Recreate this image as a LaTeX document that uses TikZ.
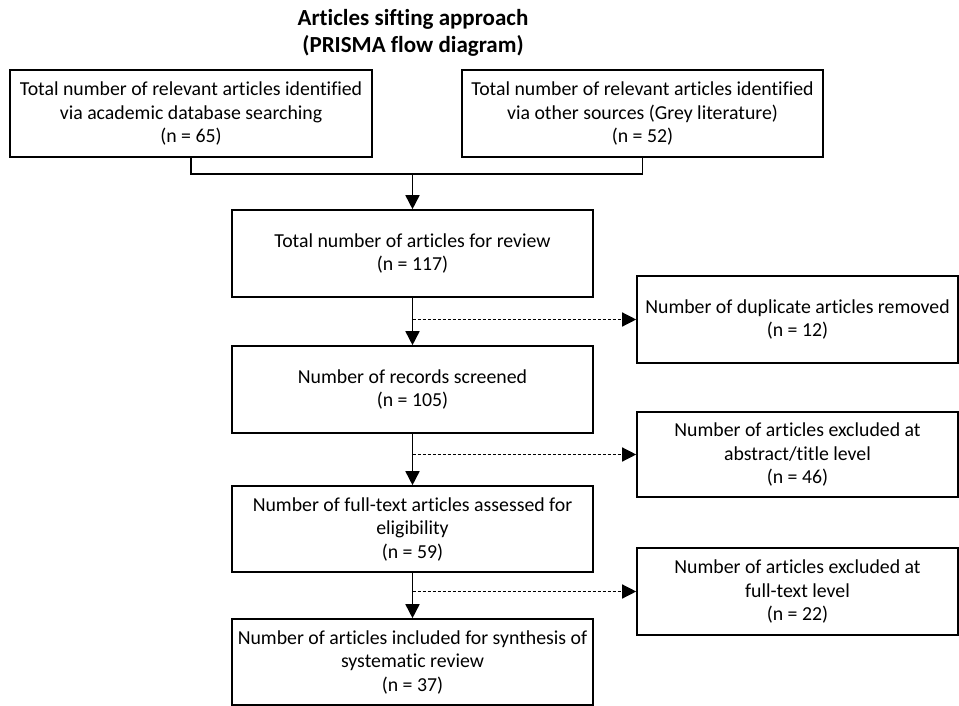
\documentclass[tikz,border=0pt]{standalone}
\usepackage{fontspec}
\setmainfont{Carlito}[Ligatures=NoCommon]
\usetikzlibrary{arrows.meta}
\begin{document}
\begin{tikzpicture}[x=1pt,y=-1pt,
  box/.style={draw,line width=1.6pt,minimum width=#1,align=center,inner sep=0pt,
    font=\fontsize{19.8}{23.5}\selectfont},
  box/.default=361pt,
  conn/.style={line width=1.6pt},
  arr/.style={line width=1.6pt,-{Triangle[length=14pt,width=14pt]}},
  darr/.style={line width=1.3pt,dash pattern=on 3pt off 2pt,-{Triangle[length=14pt,width=14pt]}}]
\useasboundingbox (0,0) rectangle (959,706);
\node[font=\bfseries\fontsize{23}{27}\selectfont,align=center] (title) at (413,33) {Articles sifting approach\\(PRISMA flow diagram)};
\node[box=362pt,minimum height=87pt] (b1) at (191,113.5) {Total number of relevant articles identified\\via academic database searching\\(n = 65)};
\node[box=361pt,minimum height=87pt] (b2) at (642.5,113.5) {Total number of relevant articles identified\\via other sources (Grey literature)\\(n = 52)};
\node[box,minimum height=87pt] (b3) at (412.5,253.5) {Total number of articles for review\\(n = 117)};
\node[box,minimum height=87pt] (b4) at (412.5,389.5) {Number of records screened\\(n = 105)};
\node[box,minimum height=86pt] (b7) at (412.5,529) {Number of full-text articles assessed for\\eligibility\\(n = 59)};
\node[box,minimum height=86pt] (b8) at (412.5,662) {Number of articles included for synthesis of\\systematic review\\(n = 37)};
\node[box=321pt,minimum height=87pt] (b5) at (797.5,319.5) {Number of duplicate articles removed\\(n = 12)};
\node[box=321pt,minimum height=85pt] (b6) at (797.5,454.5) {Number of articles excluded at\\abstract/title level\\(n = 46)};
\node[box=321pt,minimum height=87pt] (b9) at (797.5,591.5) {Number of articles excluded at\\full-text level\\(n = 22)};
\coordinate (m) at (412.5,174);
\draw[conn] (b1.south) |- (m) -| (b2.south);
\draw[arr] (m) -- (b3.north);
\draw[arr] (b3.south) -- (b4.north);
\draw[arr] (b4.south) -- (b7.north);
\draw[arr] (b7.south) -- (b8.north);
\draw[darr] (b3.south |- b5.west) -- (b5.west);
\draw[darr] (b4.south |- b6.west) -- (b6.west);
\draw[darr] (b7.south |- b9.west) -- (b9.west);
\end{tikzpicture}
\end{document}
